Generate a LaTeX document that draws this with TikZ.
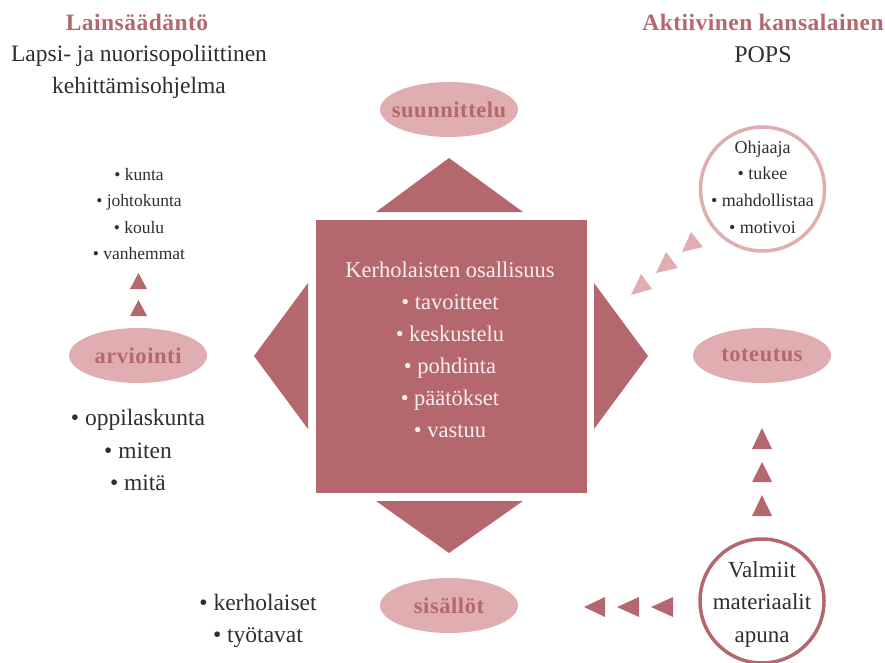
\documentclass[tikz,border=0pt]{standalone}
\usepackage{fontspec}
\setmainfont{Liberation Serif}
\usetikzlibrary{shapes.geometric}
\definecolor{rosedark}{HTML}{B5676E}
\definecolor{roselight}{HTML}{E0AEB1}
\definecolor{inkgray}{HTML}{2E2E2E}
\definecolor{paletext}{HTML}{F8EEEE}
\tikzset{
  bigtri/.style={fill=rosedark},
  darktri/.style={fill=rosedark},
  lighttri/.style={fill=roselight},
  stage/.style={ellipse, fill=roselight, minimum width=138pt, minimum height=55pt, inner sep=0pt},
  stagelabel/.style={inner sep=0pt, text=rosedark,
    font=\fontsize{22.5}{26}\selectfont\bfseries\addfontfeature{LetterSpace=2.5}},
  ring/.style={circle, minimum size=124pt, inner sep=0pt, line width=3.5pt},
  header/.style={text=rosedark, font=\fontsize{23.5}{26}\selectfont\bfseries\addfontfeature{LetterSpace=2}},
  plain/.style={text=inkgray, align=center},
}
\begin{document}
\begin{tikzpicture}[x=1pt,y=-1pt]
\useasboundingbox (0,0) rectangle (885,663);
% headers
\node[header] (lain) at (137,22) {Lainsäädäntö};
\node[plain, font=\fontsize{23.5}{32}\selectfont] (lapsi) at (139,72) {Lapsi- ja nuorisopoliittinen\\kehittämisohjelma};
\node[header] (akt) at (763,22) {Aktiivinen kansalainen};
\node[plain, font=\fontsize{24}{26}\selectfont] (pops) at (763,55) {POPS};
% central square and big triangles
\node[fill=rosedark, minimum width=271pt, minimum height=273pt, inner sep=0pt] (sq) at (451.5,356.5) {};
\node[text=paletext, align=center, font=\fontsize{22.5}{32}\selectfont] (sqtext) at (450,350)
  {Kerholaisten osallisuus\\• tavoitteet\\• keskustelu\\• pohdinta\\• päätökset\\• vastuu};
\fill[bigtri] (449,158) -- (523,212) -- (376,212) -- cycle;
\fill[bigtri] (376,501) -- (523,501) -- (449,553) -- cycle;
\fill[bigtri] (254,356) -- (308,283) -- (308,429) -- cycle;
\fill[bigtri] (594,283) -- (648,356) -- (594,429) -- cycle;
% stage ellipses
\node[stage] (suun) at (449,109.5) {};
\node[stagelabel] (suunl) at (suun) {suunnittelu};
\node[stage] (arv) at (138,355.5) {};
\node[stagelabel] (arvl) at (arv) {arviointi};
\node[stage] (tot) at (762,355.5) {};
\node[stagelabel] (totl) at (tot) {toteutus};
\node[stage] (sis) at (449,605.5) {};
\node[stagelabel] (sisl) at (sis) {sisällöt};
% circles
\node[ring, draw=roselight] (ohj) at (762.5,189) {};
\node[plain, font=\fontsize{18}{26.7}\selectfont] (ohjtext) at (762.5,187) {Ohjaaja\\• tukee\\• mahdollistaa\\• motivoi};
\node[ring, draw=rosedark] (valm) at (762,601) {};
\node[plain, font=\fontsize{23}{32.5}\selectfont] (valmtext) at (762,604) {Valmiit\\materiaalit\\apuna};
% lists
\node[plain, font=\fontsize{17.5}{26.3}\selectfont] (tahot) at (139,214) {• kunta\\• johtokunta\\• koulu\\• vanhemmat};
\node[plain, font=\fontsize{23.5}{32.5}\selectfont] (oppi) at (138,450) {• oppilaskunta\\• miten\\• mitä};
\node[plain, font=\fontsize{23.5}{32}\selectfont] (kerh) at (258,621) {• kerholaiset\\• työtavat};
% small arrow triangles: valmiit -> toteutus
\fill[darktri] (762,428) -- (772,449) -- (752,449) -- cycle;
\fill[darktri] (762,462) -- (772,482) -- (752,482) -- cycle;
\fill[darktri] (762,495) -- (772,516) -- (752,516) -- cycle;
% valmiit -> sisallot
\fill[darktri] (584,607) -- (605,597) -- (605,617) -- cycle;
\fill[darktri] (617,607) -- (639,597) -- (639,617) -- cycle;
\fill[darktri] (651,607) -- (673,597) -- (673,617) -- cycle;
% arviointi -> tahot
\fill[darktri] (138.5,273) -- (147,289) -- (130,289) -- cycle;
\fill[darktri] (138.5,300) -- (147,316) -- (130,316) -- cycle;
% ohjaaja -> square (light, tilted)
\fill[lighttri] (691,232) -- (703,247) -- (682,252) -- cycle;
\fill[lighttri] (666,252) -- (678,268) -- (656,273) -- cycle;
\fill[lighttri] (641,274) -- (652,289) -- (631,295) -- cycle;
\end{tikzpicture}
\end{document}
